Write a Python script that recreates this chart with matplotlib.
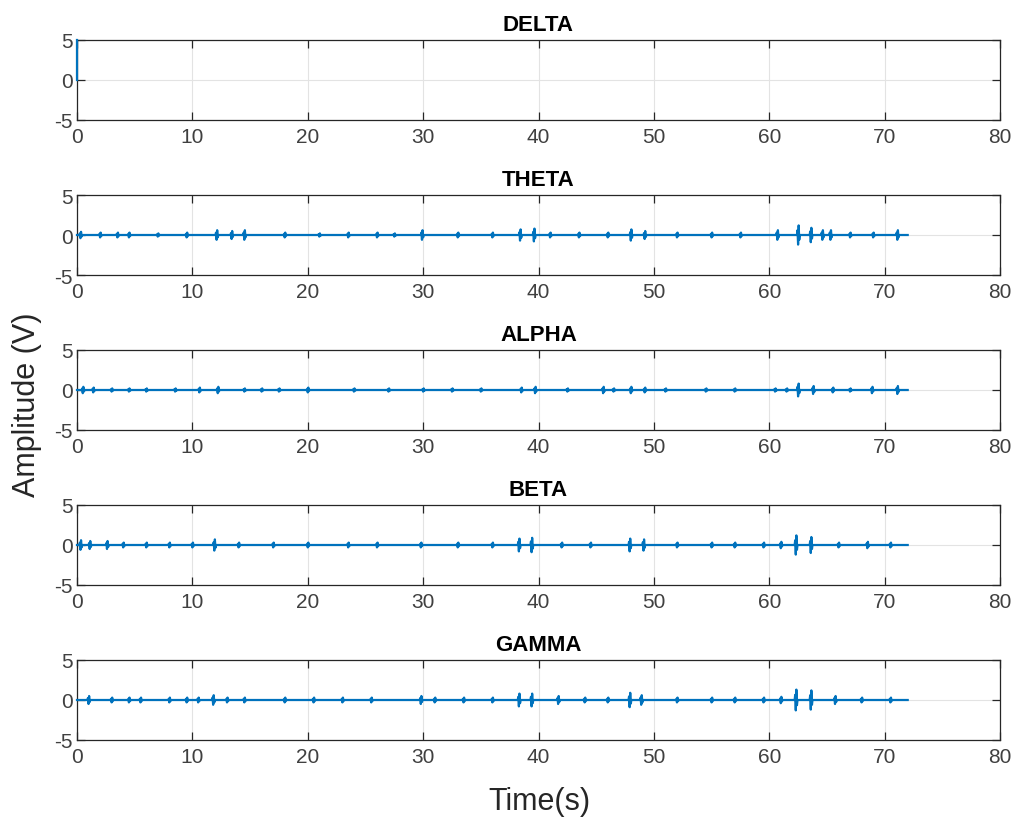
import numpy as np
import matplotlib
matplotlib.use('Agg')
import matplotlib.pyplot as plt

plt.rcParams['font.family'] = ['Liberation Sans', 'DejaVu Sans']
plt.rcParams['axes.unicode_minus'] = False

band_names = ['DELTA', 'THETA', 'ALPHA', 'BETA', 'GAMMA']
t_end = 72.0

# delta only shows a single rise at t=0 (rest is off-scale)
delta_t = [0.0, 0.0]
delta_v = [0.0, 5.0]

theta_times = [0.3, 2.0, 3.5, 4.5, 7.0, 9.5, 12.1, 13.4, 14.5, 18.0, 21.0, 23.5, 26.0, 27.5, 29.9,
               33.0, 36.0, 38.4, 39.6, 41.0, 43.5, 46.0, 48.0, 49.2, 52.0, 55.0, 57.5, 60.7, 62.5,
               63.6, 64.6, 65.3, 67.0, 69.0, 71.1]
theta_amps = [0.4, 0.3, 0.3, 0.3, 0.2, 0.3, 0.6, 0.5, 0.6, 0.3, 0.2, 0.3, 0.3, 0.2, 0.6,
              0.3, 0.3, 0.7, 0.8, 0.3, 0.3, 0.3, 0.7, 0.5, 0.3, 0.3, 0.3, 0.6, 1.2,
              0.9, 0.6, 0.6, 0.3, 0.3, 0.6]

alpha_times = [0.5, 1.4, 3.0, 4.5, 6.0, 8.5, 10.6, 12.2, 14.5, 16.0, 17.5, 20.0, 24.0, 27.0, 30.0,
               32.5, 35.0, 38.5, 39.7, 42.5, 45.6, 46.5, 48.0, 49.2, 51.0, 54.5, 57.0, 60.5, 61.5,
               62.5, 63.8, 65.5, 67.0, 68.9, 71.1]
alpha_amps = [0.4, 0.3, 0.2, 0.2, 0.2, 0.2, 0.3, 0.4, 0.2, 0.2, 0.2, 0.3, 0.2, 0.2, 0.2,
              0.2, 0.2, 0.3, 0.4, 0.2, 0.4, 0.2, 0.4, 0.3, 0.2, 0.2, 0.2, 0.2, 0.2,
              0.8, 0.5, 0.3, 0.2, 0.4, 0.5]

beta_times = [0.3, 1.1, 2.6, 4.0, 6.0, 8.0, 10.0, 11.9, 14.0, 17.0, 20.0, 23.5, 26.0, 29.8, 33.0,
              36.0, 38.3, 39.4, 42.0, 44.5, 47.9, 49.1, 52.0, 55.0, 57.0, 59.5, 61.0, 62.3, 63.6,
              66.0, 68.5, 70.5]
beta_amps = [0.6, 0.5, 0.5, 0.3, 0.3, 0.3, 0.3, 0.7, 0.3, 0.3, 0.3, 0.3, 0.3, 0.3, 0.3,
             0.3, 0.8, 0.9, 0.3, 0.3, 0.8, 0.7, 0.3, 0.3, 0.3, 0.3, 0.4, 1.2, 1.0,
             0.3, 0.4, 0.3]

gamma_times = [1.0, 3.0, 4.5, 5.5, 8.0, 9.5, 10.5, 11.8, 13.0, 14.5, 18.0, 20.5, 23.0, 25.5, 29.8,
               31.0, 33.5, 36.0, 38.3, 39.4, 41.7, 44.0, 46.0, 47.9, 48.9, 52.0, 55.0, 57.0, 59.5,
               61.0, 62.3, 63.6, 65.7, 68.0, 70.5]
gamma_amps = [0.5, 0.3, 0.3, 0.3, 0.3, 0.3, 0.3, 0.6, 0.3, 0.3, 0.3, 0.3, 0.3, 0.3, 0.5,
              0.3, 0.3, 0.3, 0.8, 0.8, 0.5, 0.3, 0.3, 0.9, 0.6, 0.3, 0.3, 0.3, 0.3,
              0.4, 1.3, 1.2, 0.5, 0.3, 0.3]

x_ticks = [0, 10, 20, 30, 40, 50, 60, 70, 80]
y_ticks = [-5, 0, 5]


def make_trace(times, amps, end):
    # baseline at zero with a short oscillation at every burst
    xs = [0.0]
    ys = [0.0]
    for t, a in zip(times, amps):
        xs += [t - 0.1, t - 0.05, t, t + 0.05, t + 0.1, t + 0.15]
        ys += [0.0, 0.5 * a, -a, a, -0.5 * a, 0.0]
    xs.append(end)
    ys.append(0.0)
    return np.array(xs), np.array(ys)


traces = [
    (np.array(delta_t), np.array(delta_v)),
    make_trace(theta_times, theta_amps, t_end),
    make_trace(alpha_times, alpha_amps, t_end),
    make_trace(beta_times, beta_amps, t_end),
    make_trace(gamma_times, gamma_amps, t_end),
]

fig = plt.figure(figsize=(10.19, 8.2), dpi=100)
W, H = 1019.0, 820.0
left, right = 77, 1000
tops = [41, 196, 351, 506, 661]
ax_h = 80
blue = '#0072BD'
dark = '#262626'

for name, (x, y), top in zip(band_names, traces, tops):
    ax = fig.add_axes([left / W, 1 - (top + ax_h) / H, (right - left) / W, ax_h / H])
    ax.plot(x, y, color=blue, linewidth=1.6, zorder=5, clip_on=False)
    ax.set_xlim(0, 80)
    ax.set_ylim(-5, 5)
    ax.set_xticks(x_ticks)
    ax.set_yticks(y_ticks)
    ax.grid(True, color='#e3e3e3', linewidth=0.8)
    ax.set_axisbelow(True)
    ax.tick_params(direction='in', length=6, width=0.9, colors=dark, labelsize=15,
                   top=True, right=True, pad=5)
    ax.tick_params(axis='y', pad=3)
    ax.tick_params(labelcolor='#404040')
    for sp in ax.spines.values():
        sp.set_color(dark)
        sp.set_linewidth(0.9)
        sp.set_zorder(4)
    ax.set_title(name, fontsize=16, fontweight='bold', pad=7, color='black')

fig.text(27 / W, 0.506, 'Amplitude (V)', rotation=90, ha='center', va='center',
         fontsize=22, color=dark)
fig.text(539 / W, 1 - 802 / H, 'Time(s)', ha='center', va='center', fontsize=22, color=dark)

fig.savefig('out.png', dpi=100)
